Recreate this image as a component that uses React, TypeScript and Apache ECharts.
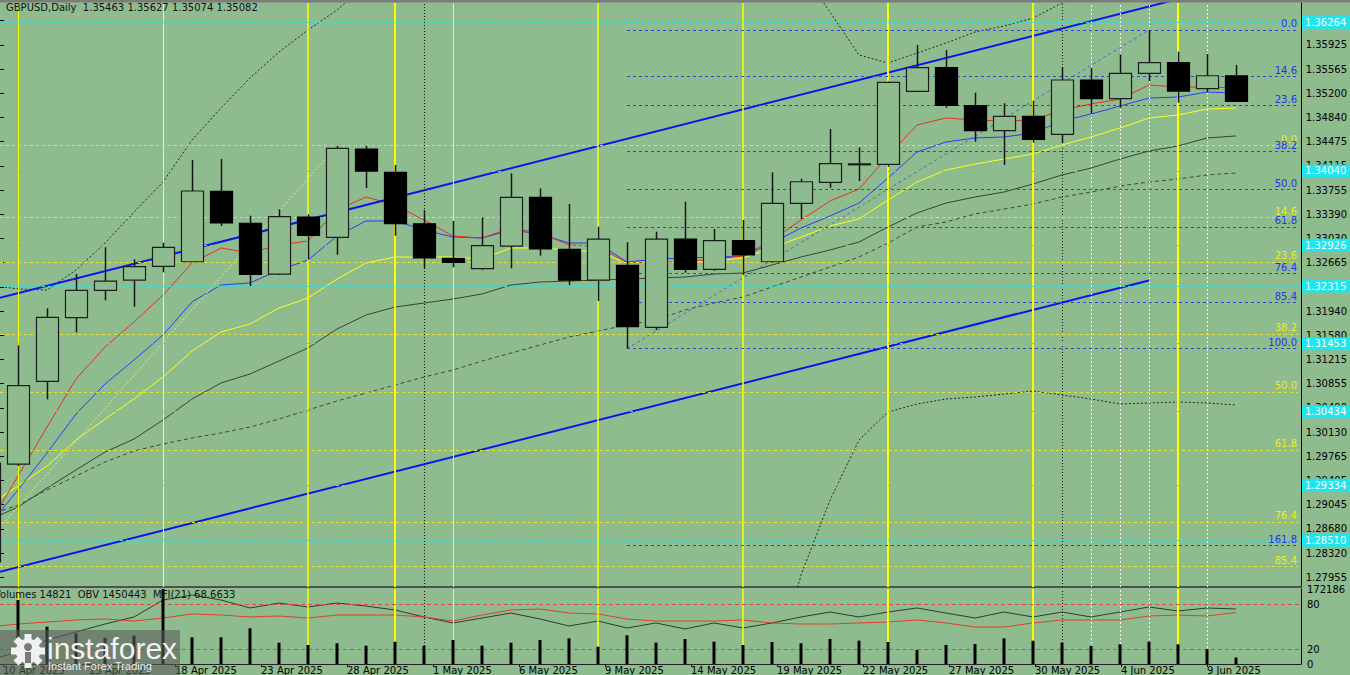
import React, { useEffect, useRef } from "react";
import * as echarts from "echarts";

// ---------------- DATA ----------------
const DATES = [
  "10 Apr 2025", "11 Apr 2025", "14 Apr 2025", "15 Apr 2025", "16 Apr 2025", "17 Apr 2025", "18 Apr 2025",
  "21 Apr 2025", "22 Apr 2025", "23 Apr 2025", "24 Apr 2025", "25 Apr 2025", "28 Apr 2025", "29 Apr 2025",
  "30 Apr 2025", "1 May 2025", "2 May 2025", "5 May 2025", "6 May 2025", "7 May 2025", "8 May 2025",
  "9 May 2025", "12 May 2025", "13 May 2025", "14 May 2025", "15 May 2025", "16 May 2025", "19 May 2025",
  "20 May 2025", "21 May 2025", "22 May 2025", "23 May 2025", "26 May 2025", "27 May 2025", "28 May 2025",
  "29 May 2025", "30 May 2025", "2 Jun 2025", "3 Jun 2025", "4 Jun 2025", "5 Jun 2025", "6 Jun 2025",
  "9 Jun 2025", "10 Jun 2025",
];

const OPEN = [
  1.28184, 1.29651, 1.3089, 1.31842, 1.32252, 1.32406, 1.32612, 1.3268, 1.33735, 1.33255, 1.32496, 1.3335,
  1.33046, 1.34368, 1.34019, 1.33249, 1.32731, 1.32576, 1.32915, 1.33645, 1.32866, 1.32406, 1.32627, 1.31698,
  1.3302, 1.32567, 1.32995, 1.3268, 1.33555, 1.33869, 1.34138, 1.34139, 1.35232, 1.35585, 1.35016, 1.34642,
  1.34857, 1.34588, 1.35401, 1.35121, 1.35501, 1.3566, 1.35271, 1.35463,
];
const HIGH = [
  1.29786, 1.31429, 1.31983, 1.32496, 1.32896, 1.32716, 1.32965, 1.34203, 1.34218, 1.33369, 1.33465, 1.3339,
  1.34417, 1.34417, 1.34128, 1.33454, 1.3329, 1.33345, 1.34004, 1.33779, 1.33544, 1.33204, 1.32971, 1.3313,
  1.33579, 1.3317, 1.33305, 1.34019, 1.33923, 1.34667, 1.34393, 1.35379, 1.35925, 1.3585, 1.35211, 1.35052,
  1.35091, 1.35591, 1.35581, 1.35786, 1.3615, 1.35825, 1.3579, 1.35627,
];
const LOW = [
  1.28064, 1.29621, 1.3062, 1.31623, 1.32102, 1.32007, 1.32522, 1.32676, 1.33215, 1.32317, 1.32481, 1.32716,
  1.32785, 1.33784, 1.3307, 1.32582, 1.32597, 1.3256, 1.32582, 1.3277, 1.32332, 1.32092, 1.31378, 1.31658,
  1.32516, 1.32546, 1.32481, 1.32671, 1.3332, 1.33788, 1.33889, 1.34103, 1.35229, 1.34986, 1.34477, 1.34128,
  1.34462, 1.34462, 1.34892, 1.34986, 1.35386, 1.35061, 1.35221, 1.35074,
];
const CLOSE = [
  1.29666, 1.30824, 1.31848, 1.32252, 1.32391, 1.32606, 1.32896, 1.33739, 1.3326, 1.32492, 1.33354, 1.33076,
  1.34378, 1.34038, 1.33249, 1.32736, 1.32671, 1.3292, 1.33645, 1.32871, 1.32406, 1.3302, 1.31707, 1.3302,
  1.32567, 1.32995, 1.32781, 1.33555, 1.33878, 1.34148, 1.34146, 1.35367, 1.35585, 1.35022, 1.34642, 1.34857,
  1.34513, 1.35401, 1.35121, 1.35501, 1.3566, 1.35236, 1.35465, 1.35082,
];

const MA_RED = [
  1.28738, 1.29472, 1.30205, 1.30924, 1.31403, 1.31778, 1.32182, 1.32661, 1.32886, 1.32811, 1.3293, 1.3299,
  1.33455, 1.33649, 1.33529, 1.33305, 1.33065, 1.33035, 1.33185, 1.3311, 1.3293, 1.32915, 1.32661, 1.32676,
  1.32676, 1.32721, 1.32766, 1.33005, 1.33305, 1.33589, 1.33769, 1.34263, 1.34727, 1.34832, 1.34802, 1.34787,
  1.34802, 1.34952, 1.35042, 1.35116, 1.35326, 1.35296, 1.35296, 1.35281,
];
const MA_BLUE = [
  1.28738, 1.29262, 1.29816, 1.304, 1.30849, 1.31209, 1.31583, 1.32077, 1.32332, 1.32362, 1.32556, 1.32706,
  1.33065, 1.3329, 1.3329, 1.33155, 1.3305, 1.33035, 1.33155, 1.33095, 1.3296, 1.3296, 1.32676, 1.32721,
  1.32736, 1.32751, 1.32766, 1.3296, 1.33185, 1.33365, 1.33559, 1.33934, 1.34323, 1.34473, 1.34533, 1.34548,
  1.34607, 1.34787, 1.34892, 1.35012, 1.35131, 1.35146, 1.35221, 1.35206,
];
const MA_YELLOW = [
  1.29037, 1.29322, 1.29621, 1.30011, 1.30325, 1.30625, 1.30954, 1.31343, 1.31628, 1.31748, 1.31987, 1.32137,
  1.32421, 1.32661, 1.32751, 1.32751, 1.32751, 1.32721, 1.32886, 1.32886, 1.32856, 1.32826, 1.32661, 1.32676,
  1.32676, 1.32691, 1.32736, 1.32886, 1.3305, 1.33215, 1.3332, 1.33604, 1.33874, 1.34053, 1.34143, 1.34218,
  1.34293, 1.34428, 1.34548, 1.34682, 1.34832, 1.34877, 1.34967, 1.34982,
];
const MA_DARK = [
  1.28813, 1.29008, 1.29292, 1.29562, 1.29831, 1.30026, 1.3031, 1.30625, 1.30864, 1.30999, 1.31194, 1.31388,
  1.31673, 1.31882, 1.32002, 1.32062, 1.32122, 1.32197, 1.32332, 1.32376, 1.32391, 1.32406, 1.32421, 1.32436,
  1.32451, 1.32496, 1.32511, 1.32631, 1.32751, 1.32856, 1.32975, 1.332, 1.3341, 1.33559, 1.33649, 1.33724,
  1.33844, 1.33979, 1.34083, 1.34218, 1.34338, 1.34413, 1.34533, 1.34563,
];
const MA_DASHED = [
  1.28888, 1.29037, 1.29262, 1.29472, 1.29681, 1.29846, 1.29951, 1.30041, 1.30116, 1.30205, 1.30325, 1.3046,
  1.30595, 1.30714, 1.30834, 1.30954, 1.31059, 1.31194, 1.31313, 1.31433, 1.31553, 1.31643, 1.31733, 1.31807,
  1.31957, 1.32062, 1.32152, 1.32302, 1.32451, 1.32601, 1.32751, 1.3296, 1.332, 1.33275, 1.33395, 1.33469,
  1.33544, 1.33649, 1.33724, 1.33814, 1.33874, 1.33919, 1.33979, 1.34009,
];
const N = null;
const BAND_UPPER = [
  1.32332, 1.32272, 1.32257, 1.32556, 1.3296, 1.33425, 1.33874, 1.34503, 1.34982, 1.35431, 1.3582, 1.3615,
  1.36449, 1.36823, N, N, N, N, N, N, N, N, N, N, N, N, N, N,
  1.37048, 1.36419, 1.35775, 1.35656, 1.35805, 1.35955, 1.3612, 1.3621, 1.36329, 1.36554, 1.36779, N, N, N, N, N,
];
const BAND_LOWER = [
  N, N, N, N, N, N, N, N, N, N, N, N, N, N, N, N, N, N, N, N, N, N, N, N, N, N, N,
  1.26417, 1.27989, 1.29112, 1.30011, 1.3043, 1.3055, 1.30625, 1.30655, 1.30699, 1.30744, 1.30685, 1.30625,
  1.3055, 1.30565, 1.3058, 1.30565, 1.30535,
];

const VOLUME = [
  60000, 146900, 85600, 70000, 60000, 65000, 172186, 61300, 61300, 82000, 48900, 43600, 47500, 42000, 51200,
  42000, 55100, 42000, 48900, 55100, 59000, 39700, 65900, 48900, 57400, 51200, 43600, 50500, 47500, 57400,
  53500, 50500, 32100, 43600, 45900, 59000, 53500, 48900, 41300, 45200, 51200, 45200, 33700, 14821,
];
const OSC_DARK = [
  5.3, 16, 32, 42.7, 53.3, 62.7, 85.3, 92, 85.3, 74.7, 81.3, 76, 81.3, 77.3, 72, 62.7, 54.7, 61.3, 68, 60,
  50.7, 57.3, 48, 54.7, 46.7, 54.7, 48, 54.7, 62.7, 69.3, 62.7, 69.3, 74.7, 68, 61.3, 69.3, 62.7, 69.3, 62.7,
  69.3, 76, 70.7, 74.7, 73.3,
];
const MFI = [
  49.3, 53.3, 56, 58.7, 60, 57.3, 61.3, 66.7, 65.3, 62.7, 64, 61.3, 65.3, 65.3, 65.3, 62.7, 57.3, 65.3, 72,
  73.3, 68, 66.7, 60, 57.3, 57.3, 57.3, 58.7, 54.7, 53.3, 53.3, 54.7, 56, 58.7, 54.7, 49.3, 49.3, 54.7, 58.7,
  58.7, 58.7, 64, 65.3, 64, 68.66,
];

const PRICE_TICKS = [
  "1.27955", "1.28320", "1.28680", "1.29045", "1.29405", "1.29765", "1.30130", "1.30490", "1.30855", "1.31215",
  "1.31580", "1.31940", "1.32300", "1.32665", "1.33030", "1.33390", "1.33755", "1.34115", "1.34475", "1.34840",
  "1.35200", "1.35565", "1.35925", "1.36290",
];
const MFI_LEVELS = [20, 80];

const FIB_BLUE_LEVELS = ["0.0", "14.6", "23.6", "38.2", "50.0", "61.8", "76.4", "85.4", "100.0", "161.8"];
const FIB_BLUE_PRICES = [1.3615, 1.35453, 1.35024, 1.34327, 1.33764, 1.33201, 1.32504, 1.32075, 1.31378, 1.28429];
const FIB_YELLOW_LEVELS = ["0.0", "14.6", "23.6", "38.2", "50.0", "61.8", "76.4", "85.4"];
const FIB_YELLOW_PRICES = [1.34417, 1.33341, 1.32677, 1.31601, 1.30731, 1.29862, 1.28786, 1.28122];
const CYAN_LEVELS = [1.36264, 1.3404, 1.32926, 1.32315, 1.31453, 1.30434, 1.29334, 1.2851];

const FIB_BLUE_START = 22; // 12 May
const CHANNEL_UPPER = [[0, 1.32099], [41, 1.36612]];
const CHANNEL_LOWER = [[0, 1.27997], [40, 1.324]];
const FIB_TREND_YELLOW = [[-3, 1.27046], [12, 1.34417]];
const FIB_TREND_BLUE = [[22, 1.31378], [40, 1.3615]];

const VLINES_YELLOW = [1, 6, 11, 14, 16, 21, 26, 31, 36, 41];
const VLINES_BLACK = [15, 37];
const VLINES_WHITE = [38, 39, 40, 42];

// ---------------- LAYOUT / STYLE ----------------
const BG = "#8fbc8f";
const FONT = "DejaVu Sans";
const PLOT_W = 1301;
const XMIN = 11 / 29;
const XMAX = 1312 / 29;
const PX = PLOT_W / (XMAX - XMIN);
const LINE_END = 1309 / 29;
const PMIN = 1.2781;
const PMAX = 1.36554;
const MAIN_TOP = 3;
const MAIN_H = 584;
const IND_TOP = 589;
const IND_H = 75;
const CYAN_LINE = "#3fd8d4";
const CYAN_BOX = "#1ee6ee";
const FIB_BLUE = "#3343f0";
const FIB_YEL = "#e4e43a";

const tickMin = parseFloat(PRICE_TICKS[0]);
const tickMax = parseFloat(PRICE_TICKS[PRICE_TICKS.length - 1]);
const tickStep = (tickMax - tickMin) / (PRICE_TICKS.length - 1);
const priceGridTop = MAIN_TOP + ((PMAX - tickMax) / (PMAX - PMIN)) * MAIN_H;
const priceGridH = ((tickMax - tickMin) / (PMAX - PMIN)) * MAIN_H;
const dateFirst = 0;
const dateLast = 42;
const dateGridLeft = (dateFirst - XMIN) * PX;
const dateGridW = (dateLast - dateFirst) * PX;
const VOL_MAX = Math.max(...VOLUME);

const pairs = (arr: (number | null)[]) => arr.map((v, i) => [i, v]);

const lineSeries = (name: string, data: any[], color: string, type: any, width = 1, z = 3, extra: any = {}) => ({
  name,
  type: "line",
  xAxisIndex: 0,
  yAxisIndex: 0,
  data,
  showSymbol: false,
  symbol: "none",
  silent: true,
  clip: true,
  z,
  lineStyle: { color, type, width },
  ...extra,
});

const hLine = (x0: number, x1: number, price: number, color: string, dash: any, label: any) => [
  { coord: [x0, price], lineStyle: { color, type: dash, width: 1 }, label },
  { coord: [x1, price] },
];

const fibLabel = (text: string, color: string) => ({
  show: true,
  position: "insideEndTop",
  formatter: text,
  color,
  fontSize: 10,
  fontFamily: FONT,
  distance: 1,
});

const vWidth = (i: number) => (i === 1 || i === 6 || i === 16 ? 1 : i === 11 || i === 21 || i === 26 ? 1.5 : 2);
const vColor = (i: number) => (i === 6 ? "#f2f29a" : "#ffff00");

const verticalLines = () => [
  ...VLINES_YELLOW.map((i) => ({ xAxis: i, lineStyle: { color: vColor(i), width: vWidth(i), type: "solid" } })),
  ...VLINES_BLACK.map((i) => ({ xAxis: i, lineStyle: { color: "#1a1a1a", width: 1, type: [1, 2] } })),
  ...VLINES_WHITE.map((i) => ({ xAxis: i, lineStyle: { color: "#f4f4f4", width: 1, type: [2, 2] } })),
];

const objectMarks = [
  ...verticalLines(),
  ...CYAN_LEVELS.map((v) =>
    hLine(XMIN + 0.001, XMAX - 0.001, v, CYAN_LINE, [3, 3], {
      show: true,
      position: "end",
      formatter: v.toFixed(5),
      color: "#ffffff",
      backgroundColor: CYAN_BOX,
      padding: [2, 4, 1, 3],
      fontSize: 10,
      fontFamily: FONT,
      distance: 1,
    })
  ),
  ...FIB_YELLOW_PRICES.map((p, k) =>
    hLine(XMIN + 0.001, LINE_END, p, FIB_YEL, [3, 3], fibLabel(FIB_YELLOW_LEVELS[k], "#ecec1e"))
  ),
  ...FIB_BLUE_PRICES.map((p, k) =>
    hLine(FIB_BLUE_START, LINE_END, p, FIB_BLUE, [3, 3], fibLabel(FIB_BLUE_LEVELS[k], "#2233ee"))
  ),
  {
    yAxis: CLOSE[CLOSE.length - 1],
    lineStyle: { width: 0, opacity: 0 },
    label: {
      show: true,
      position: "end",
      formatter: CLOSE[CLOSE.length - 1].toFixed(5),
      color: "#ffffff",
      backgroundColor: "#000000",
      padding: [2, 4, 1, 3],
      fontSize: 10,
      fontFamily: FONT,
      distance: 1,
    },
  },
];

const candleData = DATES.map((_, i) => [i, OPEN[i], CLOSE[i], LOW[i], HIGH[i]]);

const renderCandle = (_p: any, api: any) => {
  const i = api.value(0);
  const o = api.value(1);
  const c = api.value(2);
  const l = api.value(3);
  const h = api.value(4);
  const pO = api.coord([i, o]);
  const pC = api.coord([i, c]);
  const pL = api.coord([i, l]);
  const pH = api.coord([i, h]);
  const w = api.size([1, 0])[0] * 0.76;
  const x = Math.round(pO[0]) + 0.5;
  const top = Math.min(pO[1], pC[1]);
  const bot = Math.max(pO[1], pC[1]);
  const bull = c >= o;
  return {
    type: "group",
    children: [
      { type: "line", shape: { x1: x, y1: pH[1], x2: x, y2: pL[1] }, style: { stroke: "#141414", lineWidth: 1.5 } },
      {
        type: "rect",
        shape: { x: x - w / 2, y: top, width: w, height: Math.max(bot - top, 1) },
        style: { fill: bull ? BG : "#000000", stroke: bull ? "#1e1e1e" : "#000000", lineWidth: 1.2 },
      },
    ],
  };
};

const renderVolume = (_p: any, api: any) => {
  const i = api.value(0);
  const v = api.value(1);
  const a = api.coord([i, 0]);
  const b = api.coord([i, v]);
  return { type: "rect", shape: { x: a[0] - 1.5, y: b[1], width: 3, height: a[1] - b[1] }, style: { fill: "#000000" } };
};

const gearTeeth = Array.from({ length: 8 }, (_, k) => ({
  type: "rect",
  x: 28,
  y: 651,
  rotation: (k * Math.PI) / 4,
  shape: { x: -3.5, y: -17, width: 7, height: 7 },
  style: { fill: "#f0f0f0" },
  z: 101,
}));

const option: any = {
  animation: false,
  backgroundColor: BG,
  textStyle: { fontFamily: FONT },
  grid: [
    { left: 0, width: PLOT_W, top: MAIN_TOP, height: MAIN_H },
    { left: 0, width: PLOT_W, top: priceGridTop, height: priceGridH },
    { left: 0, width: PLOT_W, top: IND_TOP, height: IND_H },
    { left: dateGridLeft, width: dateGridW, top: IND_TOP, height: IND_H },
  ],
  xAxis: [
    {
      type: "value", gridIndex: 0, min: XMIN, max: XMAX,
      axisLine: { show: true, onZero: false, lineStyle: { color: "#505050", width: 2 } },
      axisTick: { show: false }, axisLabel: { show: false }, splitLine: { show: false },
    },
    { type: "value", gridIndex: 1, min: 0, max: 1, show: false },
    {
      type: "value", gridIndex: 2, min: XMIN, max: XMAX,
      axisLine: { show: true, onZero: false, lineStyle: { color: "#222222", width: 1 } },
      axisTick: { show: false }, axisLabel: { show: false }, splitLine: { show: false },
    },
    {
      type: "value", gridIndex: 3, min: dateFirst, max: dateLast, interval: 3,
      axisLine: { show: false },
      axisTick: { show: true, length: 3, lineStyle: { color: "#111111" } },
      axisLabel: {
        show: true, align: "left", margin: 1, color: "#000000", fontSize: 10, fontFamily: FONT,
        showMinLabel: true, showMaxLabel: true,
        formatter: (v: number) => DATES[Math.round(v)] ?? "",
      },
      splitLine: { show: false },
    },
  ],
  yAxis: [
    {
      type: "value", gridIndex: 0, min: PMIN, max: PMAX, position: "right",
      axisLine: { show: true, onZero: false, lineStyle: { color: "#000000", width: 1 } },
      axisTick: { show: false }, axisLabel: { show: false }, splitLine: { show: false },
    },
    {
      type: "value", gridIndex: 1, min: tickMin, max: tickMax, interval: tickStep, position: "right",
      axisLine: { show: false },
      axisTick: { show: true, length: 4, lineStyle: { color: "#000000" } },
      axisLabel: {
        show: true, color: "#000000", fontSize: 10, fontFamily: FONT, margin: 6,
        showMinLabel: true, showMaxLabel: true,
        formatter: (v: number) => PRICE_TICKS[Math.round((v - tickMin) / tickStep)] ?? "",
      },
      splitLine: { show: false },
    },
    {
      type: "value", gridIndex: 2, min: 0, max: 100, interval: 20, position: "right",
      axisLine: { show: true, onZero: false, lineStyle: { color: "#000000", width: 1 } },
      axisTick: { show: false },
      axisLabel: {
        show: true, color: "#000000", fontSize: 10, fontFamily: FONT, margin: 6,
        formatter: (v: number) => (MFI_LEVELS.includes(Math.round(v)) ? String(Math.round(v)) : ""),
      },
      splitLine: { show: false },
    },
    {
      type: "value", gridIndex: 2, min: 0, max: VOL_MAX, interval: VOL_MAX, position: "right",
      axisLine: { show: false }, axisTick: { show: false },
      axisLabel: {
        show: true, color: "#000000", fontSize: 10, fontFamily: FONT, margin: 6,
        showMinLabel: true, showMaxLabel: true,
        formatter: (v: number) => String(Math.round(v)),
      },
      splitLine: { show: false },
    },
    { type: "value", gridIndex: 3, min: 0, max: 1, show: false },
  ],
  series: [
    lineSeries("MA dashed", pairs(MA_DASHED), "#3b4b3b", [4, 3], 1, 2),
    lineSeries("MA dark", pairs(MA_DARK), "#34443a", "solid", 1, 2),
    lineSeries("MA yellow", pairs(MA_YELLOW), "#ffff1a", "solid", 1, 2),
    lineSeries("MA blue", pairs(MA_BLUE), "#2a3cff", "solid", 1, 2),
    lineSeries("MA red", pairs(MA_RED), "#e8301c", "solid", 1, 2, {
      markLine: {
        silent: true, symbol: ["none", "none"], animation: false,
        label: { show: false }, data: objectMarks,
      },
    }),
    lineSeries("Band upper", pairs(BAND_UPPER), "#262626", [2, 2], 1, 2),
    lineSeries("Band lower", pairs(BAND_LOWER), "#262626", [2, 2], 1, 2),
    lineSeries("Channel upper", CHANNEL_UPPER, "#0a14f0", "solid", 2, 4),
    lineSeries("Channel lower", CHANNEL_LOWER, "#0a14f0", "solid", 2, 4),
    lineSeries("Fib trend yellow", FIB_TREND_YELLOW, "#ecec60", [2, 2], 1, 3),
    lineSeries("Fib trend blue", FIB_TREND_BLUE, "#4a5aff", [3, 3], 1, 3),
    {
      name: "GBPUSD", type: "custom", xAxisIndex: 0, yAxisIndex: 0, z: 10, clip: true, silent: true,
      data: candleData, encode: { x: 0, y: [1, 2, 3, 4] }, renderItem: renderCandle,
    },
    {
      name: "Oscillator", type: "line", xAxisIndex: 2, yAxisIndex: 2, data: pairs(OSC_DARK),
      showSymbol: false, symbol: "none", silent: true, clip: true, z: 4,
      lineStyle: { color: "#2e3e2e", width: 1 },
      markLine: {
        silent: true, symbol: ["none", "none"], animation: false, label: { show: false },
        data: [
          ...verticalLines(),
          ...MFI_LEVELS.map((v) => ({ yAxis: v, lineStyle: { color: "#e04848", type: [4, 3], width: 1 } })),
        ],
      },
    },
    {
      name: "MFI(21)", type: "line", xAxisIndex: 2, yAxisIndex: 2, data: pairs(MFI),
      showSymbol: false, symbol: "none", silent: true, clip: true, z: 4,
      lineStyle: { color: "#e0402a", width: 1 },
    },
    {
      name: "Volumes", type: "custom", xAxisIndex: 2, yAxisIndex: 3, z: 10, clip: true, silent: true,
      data: pairs(VOLUME), encode: { x: 0, y: 1 }, renderItem: renderVolume,
    },
  ],
  graphic: [
    { type: "rect", shape: { x: 0, y: 0, width: 1350, height: 2.5 }, style: { fill: "#7c7c7c" }, z: 50 },
    {
      type: "text", x: 6, y: 7, z: 50,
      style: {
        text: "GBPUSD,Daily  1.35463 1.35627 1.35074 1.35082",
        fill: "#111111", fontSize: 10, fontFamily: FONT, verticalAlign: "middle",
      },
    },
    {
      type: "text", x: -6, y: 594, z: 50,
      style: {
        text: "Volumes 14821  OBV 1450443  MFI(21) 68.6633",
        fill: "#111111", fontSize: 10, fontFamily: FONT, verticalAlign: "middle",
      },
    },
    { type: "rect", shape: { x: 0, y: 630, width: 180, height: 45 }, style: { fill: "rgba(92,92,92,0.6)" }, z: 100 },
    ...gearTeeth,
    { type: "circle", shape: { cx: 28, cy: 651, r: 12.5 }, style: { fill: "#f0f0f0" }, z: 101 },
    { type: "circle", shape: { cx: 28, cy: 647, r: 4 }, style: { fill: "#7a7a7a" }, z: 102 },
    { type: "rect", shape: { x: 25, y: 652, width: 6, height: 11 }, style: { fill: "#7a7a7a" }, z: 102 },
    {
      type: "text", x: 47, y: 648, z: 102,
      style: { text: "instaforex", fill: "#f2f2f2", fontSize: 30, fontFamily: "Liberation Sans", verticalAlign: "middle" },
    },
    {
      type: "text", x: 48, y: 666, z: 102,
      style: { text: "Instant Forex Trading", fill: "#ececec", fontSize: 11, fontFamily: "Liberation Sans", verticalAlign: "middle" },
    },
  ],
};

export default function App() {
  const ref = useRef<HTMLDivElement>(null);
  useEffect(() => {
    if (!ref.current) return;
    const chart = echarts.init(ref.current, null, { renderer: "svg" });
    chart.setOption(option);
    return () => chart.dispose();
  }, []);
  return (
    <div
      ref={ref}
      style={{ position: "absolute", left: 0, top: 0, width: 1350, height: 675, background: BG }}
    />
  );
}
